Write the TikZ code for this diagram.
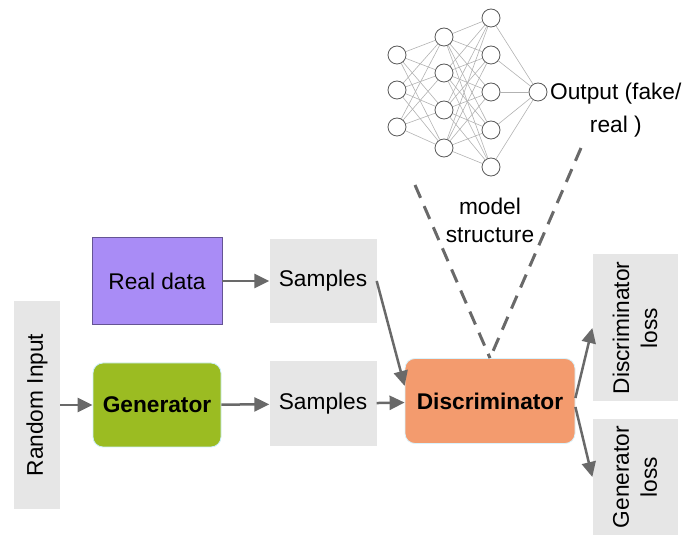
\documentclass[tikz,border=0pt]{standalone}
\usepackage{fontspec}
\setmainfont{Liberation Sans}
\usetikzlibrary{arrows.meta}
\definecolor{boxgray}{RGB}{230,230,230}
\definecolor{realpurple}{RGB}{169,140,246}
\definecolor{gengreen}{RGB}{155,188,34}
\definecolor{discorange}{RGB}{243,155,110}
\definecolor{arrowgray}{RGB}{105,105,105}

\begin{document}
\begin{tikzpicture}
  [x=1pt,y=-1pt,
   every node/.style={font=\fontsize{22.7}{28}\selectfont,inner sep=0pt,align=center},
   graybox/.style={fill=boxgray},
   neuron/.style={circle,draw=black!65,fill=white,line width=0.8pt,minimum size=18pt},
   nnedge/.style={draw=black!30,line width=0.6pt},
   arr/.style={draw=arrowgray,line width=2.5pt,-{Triangle[length=15pt,width=14pt]}},
   dashline/.style={draw=arrowgray,line width=3pt,dash pattern=on 14pt off 9pt}]

  \useasboundingbox (0,0) rectangle (694,545);

  \node[graybox,rotate=90,minimum width=207pt,minimum height=46pt] (rand) at (37,405) {Random Input};
  \node[fill=realpurple,draw=realpurple!60!black,line width=0.8pt,minimum width=130pt,minimum height=87pt] (real) at (157,281) {Real data};
  \node[fill=gengreen,draw=cyan!20,line width=0.8pt,rounded corners=10pt,minimum width=128pt,minimum height=84pt,font=\fontsize{22.7}{28}\selectfont\bfseries] (gen) at (157,405) {Generator};
  \node[graybox,minimum width=107pt,minimum height=84pt] (smp1) at (323,281) {Samples};
  \node[graybox,minimum width=107pt,minimum height=85pt] (smp2) at (323,404) {Samples};
  \node[fill=discorange,draw=cyan!15,line width=0.8pt,rounded corners=10pt,minimum width=170pt,minimum height=85pt,font=\fontsize{22.7}{28}\selectfont\bfseries] (disc) at (490,401) {Discriminator};
  \node[graybox,rotate=90,minimum width=147pt,minimum height=85pt] (dloss) at (635,328) {Discriminator\\loss};
  \node[graybox,rotate=90,minimum width=115pt,minimum height=85pt] (gloss) at (635,477) {Generator\\loss};

  % model structure
  \foreach \y [count=\i] in {55,90,127}
    \node[neuron] (a\i) at (397,\y) {};
  \foreach \y [count=\i] in {37,73,110,148}
    \node[neuron] (b\i) at (444,\y) {};
  \foreach \y [count=\i] in {18,55,92,130,167}
    \node[neuron] (c\i) at (491,\y) {};
  \node[neuron] (out) at (538,92) {};
  \foreach \i in {1,...,3}
    \foreach \j in {1,...,4}
      \draw[nnedge] (a\i) -- (b\j);
  \foreach \i in {1,...,4}
    \foreach \j in {1,...,5}
      \draw[nnedge] (b\i) -- (c\j);
  \foreach \i in {1,...,5}
    \draw[nnedge] (c\i) -- (out);
  \node[anchor=north west,font=\fontsize{22.7}{33}\selectfont] (outlbl) at (550,83) {Output (fake/\\real )};
  \node (mstruct) at (490,220) {model\\structure};

  \coordinate (vl) at (415,185);
  \coordinate (vr) at (581,148);
  \draw[dashline] (vl) -- (disc.north);
  \draw[dashline] (vr) -- (disc.north);

  \draw[arr] (rand) -- (gen);
  \draw[arr] (real) -- (smp1);
  \draw[arr] (gen) -- (smp2);
  \draw[arr] (smp1.east) -- (disc.170);
  \draw[arr] (smp2) -- (disc);
  \draw[arr] (disc.2) -- (dloss.north);
  \draw[arr] (disc.-4) -- (gloss.north);
\end{tikzpicture}
\end{document}
